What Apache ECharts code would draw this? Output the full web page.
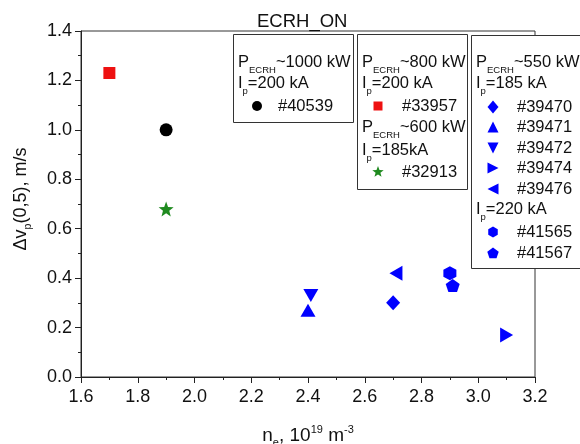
<!DOCTYPE html>
<html>
<head>
<meta charset="utf-8">
<script src="https://cdn.jsdelivr.net/npm/echarts@6/dist/echarts.min.js"></script>
<style>
html,body{margin:0;padding:0;background:#fff;}
#chart{width:580px;height:444px;}
</style>
</head>
<body>
<div id="chart"></div>
<script>
// ---- data ----
const shots   = ['#40539','#33957','#32913','#39470','#39471','#39472','#39474','#39476','#41565','#41567'];
const neVals  = [1.90, 1.70, 1.90, 2.70, 2.40, 2.41, 3.10, 2.71, 2.90, 2.91];
const dvVals  = [1.00, 1.23, 0.68, 0.30, 0.27, 0.33, 0.17, 0.42, 0.42, 0.37];
const xTicks  = [1.6, 1.8, 2.0, 2.2, 2.4, 2.6, 2.8, 3.0, 3.2];
const yTicks  = [0.0, 0.2, 0.4, 0.6, 0.8, 1.0, 1.2, 1.4];

// ---- styles ----
const FONT = '"Liberation Sans", Arial, Helvetica, sans-serif';
const BLUE = '#0000ff', RED = '#ee1111', GREEN = '#1f8a1f', BLACK = '#000000';

function polyPath(pts){
  return 'path://' + pts.map((p,i)=>(i?'L':'M')+p[0].toFixed(3)+','+p[1].toFixed(3)).join(' ') + ' Z';
}
function starPts(R, r){
  const pts=[];
  for(let i=0;i<10;i++){
    const a=-Math.PI/2+i*Math.PI/5, rr=i%2?r:R;
    pts.push([rr*Math.cos(a), rr*Math.sin(a)]);
  }
  return pts;
}
function ngonPts(n, R, a0){
  const pts=[];
  for(let i=0;i<n;i++){const a=a0+i*2*Math.PI/n;pts.push([R*Math.cos(a),R*Math.sin(a)]);}
  return pts;
}
const STAR = polyPath(starPts(10,4.2));
const HEX  = polyPath(ngonPts(6,10,-Math.PI/2));
const PENT = polyPath(ngonPts(5,10,-Math.PI/2));

const markers = [
  {symbol:'circle', rot:0, size:13, color:BLACK},
  {symbol:'rect', rot:0, size:12, color:RED},
  {symbol:STAR, rot:0, size:15, color:GREEN},
  {symbol:'diamond', rot:0, size:[14,15], color:BLUE},
  {symbol:'triangle', rot:0, size:[15,13], color:BLUE},
  {symbol:'triangle', rot:180, size:[15,13], color:BLUE},
  {symbol:'triangle', rot:-90, size:[15,13], color:BLUE},
  {symbol:'triangle', rot:90, size:[15,13], color:BLUE},
  {symbol:HEX, rot:0, size:[13,14], color:BLUE},
  {symbol:PENT, rot:0, size:[14,13], color:BLUE}
];

const series = shots.map((s,i)=>({
  name:s, type:'scatter',
  symbol:markers[i].symbol, symbolRotate:markers[i].rot, symbolSize:markers[i].size,
  itemStyle:{color:markers[i].color, opacity:1},
  data:[[neVals[i], dvVals[i]]],
  z:3
}));

// ---- text helpers ----
const mctx = document.createElement('canvas').getContext('2d');
function tw(t, size){ mctx.font = size+'px '+FONT; return mctx.measureText(t).width; }
// parts: [text, size, dy]
function runParts(parts, x0, y0, align){
  let total = parts.reduce((s,p)=>s+tw(p[0],p[1]),0);
  let x = align==='center' ? x0-total/2 : x0;
  const els=[];
  parts.forEach(p=>{
    els.push({type:'text', x:x, y:y0+(p[2]||0), z:110,
      style:{text:p[0], font:p[1]+'px '+FONT, fill:'#111', align:'left', verticalAlign:'middle'}});
    x += tw(p[0],p[1]);
  });
  return els;
}
const SUB=9.5, SUP=11;
function pLine(x,y,rest){ return runParts([['P',16.5,0],['ECRH',SUB,8.5],[rest,16.5,0]],x,y,'left'); }
function iLine(x,y,rest){ return runParts([['I',16.5,0],['p',SUB,8.5],[rest,16.5,0]],x,y,'left'); }
function legItem(mx,tx,y,idx,lsize){
  const m=markers[idx];
  const sz = lsize;
  const els=[];
  let el;
  if(m.symbol==='circle'){
    el={type:'circle', shape:{cx:mx, cy:y, r:sz/2}};
  } else if(m.symbol==='rect'){
    el={type:'rect', shape:{x:mx-sz/2, y:y-sz/2, width:sz, height:sz}};
  } else if(m.symbol==='diamond'){
    el={type:'polygon', shape:{points:[[mx,y-sz/2-1],[mx+sz/2,y],[mx,y+sz/2+1],[mx-sz/2,y]]}};
  } else if(m.symbol==='triangle'){
    const h=sz/2;
    let pts=[[0,-h],[h,h],[-h,h]];
    const a=-m.rot*Math.PI/180;
    pts=pts.map(p=>[mx+p[0]*Math.cos(a)-p[1]*Math.sin(a), y+p[0]*Math.sin(a)+p[1]*Math.cos(a)]);
    el={type:'polygon', shape:{points:pts}};
  } else if(m.symbol===STAR){
    el={type:'polygon', shape:{points:starPts(sz/2+1,(sz/2+1)*0.42).map(p=>[mx+p[0],y+p[1]])}};
  } else if(m.symbol===HEX){
    el={type:'polygon', shape:{points:ngonPts(6,sz/2,-Math.PI/2).map(p=>[mx+p[0],y+p[1]])}};
  } else {
    el={type:'polygon', shape:{points:ngonPts(5,sz/2+0.5,-Math.PI/2).map(p=>[mx+p[0],y+p[1]+0.5])}};
  }
  el.style={fill:m.color}; el.z=110;
  els.push(el);
  els.push({type:'text', x:tx, y:y, z:110, style:{text:shots[idx], font:'16.5px '+FONT, fill:'#111', verticalAlign:'middle'}});
  return els;
}
function box(x,y,w,h){
  return {type:'rect', z:105, shape:{x:x+0.5,y:y+0.5,width:w,height:h}, style:{fill:'#fff', stroke:'#333', lineWidth:1}};
}

const gfx = [];
// box 1
gfx.push(box(233,34,120,88));
gfx.push(...pLine(238,62,'~1000 kW'));
gfx.push(...iLine(238,83,'=200 kA'));
gfx.push(...legItem(257,278,106,0,10));
// box 2
gfx.push(box(357,34,110,155));
gfx.push(...pLine(362,62,'~800 kW'));
gfx.push(...iLine(362,83,'=200 kA'));
gfx.push(...legItem(378,402,106,1,9));
gfx.push(...pLine(362,127,'~600 kW'));
gfx.push(...iLine(362,150,'=185kA'));
gfx.push(...legItem(378,402,172,2,10));
// box 3
gfx.push(box(471,35,130,233));
gfx.push(...pLine(476,62,'~550 kW'));
gfx.push(...iLine(476,83,'=185 kA'));
gfx.push(...legItem(493,517,107,3,11));
gfx.push(...legItem(493,517,127,4,11));
gfx.push(...legItem(493,517,148,5,11));
gfx.push(...legItem(493,517,168,6,11));
gfx.push(...legItem(493,517,189,7,11));
gfx.push(...iLine(476,209,'=220 kA'));
gfx.push(...legItem(493,517,232,8,11));
gfx.push(...legItem(493,517,253,9,11));
// x axis name
gfx.push(...runParts([['n',19,0],['e',11,7],[', 10',19,0],['19',SUP,-6],[' m',19,0],['-3',SUP,-6]],308,436,'center'));
// y axis name (rotated)
gfx.push({type:'group', x:21, y:199, rotation:Math.PI/2, z:110,
  children: runParts([['\u0394v',18,0],['p',10.5,7],['(0,5), m/s',18,0]],0,0,'center')});

const chart = echarts.init(document.getElementById('chart'), null, {renderer:'canvas'});
chart.setOption({
  animation:false,
  backgroundColor:'#fff',
  title:{text:'ECRH_ON', left:257, top:12, padding:0,
    textStyle:{fontFamily:FONT, fontSize:18.5, fontWeight:'normal', color:'#111'}},
  grid:{left:81, right:45, top:31, bottom:67, show:true, borderColor:'#333', borderWidth:1, backgroundColor:'transparent'},
  xAxis:{type:'value', min:xTicks[0], max:xTicks[xTicks.length-1], interval:0.2,
    axisLine:{lineStyle:{color:'#222', width:1}},
    axisTick:{length:6, lineStyle:{color:'#222'}},
    minorTick:{show:true, splitNumber:2, length:3, lineStyle:{color:'#222'}},
    splitLine:{show:false},
    axisLabel:{margin:11, fontFamily:FONT, fontSize:18, color:'#111', formatter:v=>v.toFixed(1)}},
  yAxis:{type:'value', min:yTicks[0], max:yTicks[yTicks.length-1], interval:0.2,
    axisLine:{lineStyle:{color:'#222', width:1}},
    axisTick:{length:6, lineStyle:{color:'#222'}},
    minorTick:{show:true, splitNumber:2, length:3, lineStyle:{color:'#222'}},
    splitLine:{show:false},
    axisLabel:{margin:9, fontFamily:FONT, fontSize:18, color:'#111', formatter:v=>v.toFixed(1)}},
  series:series,
  graphic:gfx
});
</script>
</body>
</html>
